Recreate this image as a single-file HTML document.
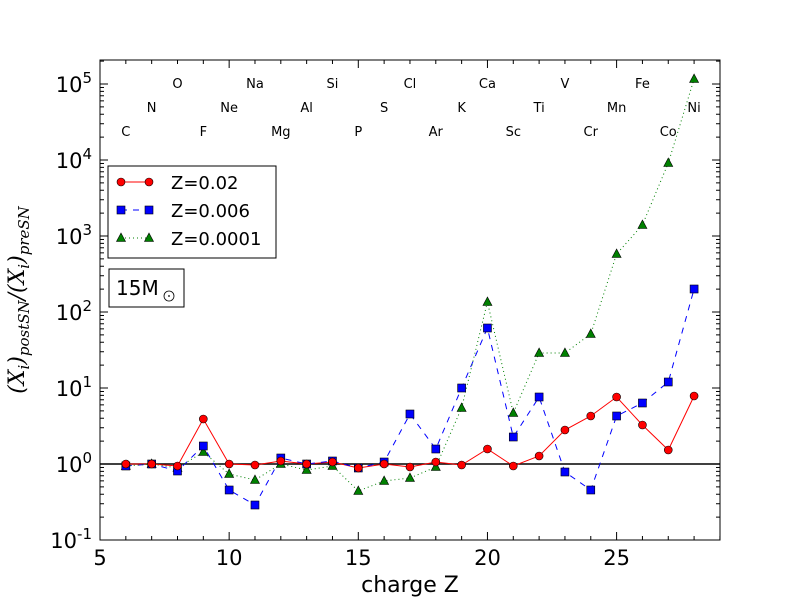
<!DOCTYPE html>
<html><head><meta charset="utf-8"><style>
html,body{margin:0;padding:0;background:#fff;}
svg{display:block;font-family:"DejaVu Sans","Liberation Sans",sans-serif;}
</style></head><body>
<svg id="s" width="800" height="600" xmlns="http://www.w3.org/2000/svg">
<rect width="800" height="600" fill="#fff"/>
</svg>
<script>
const s=document.getElementById('s');let h='';
const X=z=>100+(z-5)*25.83;
const Y=v=>464-Math.log10(v)*76;
h+='<rect x="100" y="60" width="620" height="480" fill="none" stroke="#000" stroke-width="1"/>';
for(let z=5;z<=29;z++){const x=X(z);const L=(z%5==0)?8:4;
h+=`<line x1="${x}" y1="540" x2="${x}" y2="${540-L}" stroke="#000"/><line x1="${x}" y1="60" x2="${x}" y2="${60+L}" stroke="#000"/>`;
if(z%5==0&&z<29)h+=`<text x="${x}" y="565" font-size="21" text-anchor="middle">${z}</text>`;}
for(let e=-1;e<=5;e++){for(let m=1;m<10;m++){const y=Y(m*Math.pow(10,e));if(y<60)continue;const L=m==1?8:4;
h+=`<line x1="100" y1="${y}" x2="${100+L}" y2="${y}" stroke="#000"/><line x1="720" y1="${y}" x2="${720-L}" y2="${y}" stroke="#000"/>`;}
const y=Y(Math.pow(10,e));
h+=`<text x="92" y="${y+8}" font-size="21" text-anchor="end">10<tspan dy="-9" font-size="15">${e}</tspan></text>`;}
h+='<line x1="100" y1="464" x2="720" y2="464" stroke="#000" stroke-width="1.5"/>';
const el=['C','N','O','F','Ne','Na','Mg','Al','Si','P','S','Cl','Ar','K','Ca','Sc','Ti','V','Cr','Mn','Fe','Co','Ni'];
const rows=[131,107,83];
el.forEach((n,i)=>{const z=6+i;h+=`<text x="${X(z)}" y="${rows[i%3]+5}" font-size="13" text-anchor="middle">${n}</text>`;});
const Z=[];for(let z=6;z<=28;z++)Z.push(z);
const red=[464,464,466,419,464,465,461,464,462,468,464,467,462,465,449,466,456,430,416,397,425,450,396];
const blue=[466,464,471,446,490,505,458,464,461,468,462,414,449,388,328,437,397,472,490,416,403,382,289];
const green=[466,464,468,452,474,480,464,470,466,491,481,478,467,408,302,413,353,353,334,254,225,163,79];
const pts=a=>a.map((y,i)=>X(Z[i]).toFixed(1)+','+y).join(' ');
h+=`<polyline points="${pts(red)}" fill="none" stroke="#f00" stroke-width="1"/>`;
h+=`<polyline points="${pts(blue)}" fill="none" stroke="#00f" stroke-width="1" stroke-dasharray="6,6"/>`;
h+=`<polyline points="${pts(green)}" fill="none" stroke="#008000" stroke-width="1" stroke-dasharray="1,3"/>`;
const circ=(x,y)=>`<circle cx="${x}" cy="${y}" r="4" fill="#f00" stroke="#000" stroke-width="0.6"/>`;
const sq=(x,y)=>`<rect x="${x-4}" y="${y-4}" width="8" height="8" fill="#00f" stroke="#000" stroke-width="0.6"/>`;
const tri=(x,y)=>`<polygon points="${x},${y-5} ${x+4.5},${y+3.5} ${x-4.5},${y+3.5}" fill="#008000" stroke="#000" stroke-width="0.6"/>`;
green.forEach((y,i)=>h+=tri(X(Z[i]),y));
blue.forEach((y,i)=>h+=sq(X(Z[i]),y));
red.forEach((y,i)=>h+=circ(X(Z[i]),y));
h+='<rect x="108" y="166" width="168" height="92" fill="#fff" stroke="#000"/>';
h+=`<line x1="121" y1="182" x2="149" y2="182" stroke="#f00"/>`+circ(121,182)+circ(149,182);
h+=`<text x="171" y="189" font-size="18">Z=0.02</text>`;
h+=`<line x1="121" y1="210" x2="149" y2="210" stroke="#00f" stroke-dasharray="6,6"/>`+sq(121,210)+sq(149,210);
h+=`<text x="171" y="217" font-size="18">Z=0.006</text>`;
h+=`<line x1="121" y1="238" x2="149" y2="238" stroke="#008000" stroke-dasharray="1,3"/>`+tri(121,238)+tri(149,238);
h+=`<text x="171" y="245" font-size="18">Z=0.0001</text>`;
h+='<rect x="109" y="269" width="75" height="38" fill="#fff" stroke="#000"/>';
h+='<text x="116" y="295" font-size="20">15M</text><circle cx="169" cy="296" r="5" fill="none" stroke="#000" stroke-width="0.8"/><circle cx="169" cy="296" r="0.9" fill="#000"/>';
h+='<text x="410" y="592" font-size="22" text-anchor="middle">charge Z</text>';
h+='<text transform="translate(24,300) rotate(-90)" font-size="22" text-anchor="middle" font-family="DejaVu Serif,serif" font-style="italic">(X<tspan font-size="15" dy="5">i</tspan><tspan dy="-5">)</tspan><tspan font-size="15" dy="5">postSN</tspan><tspan dy="-5">/(X</tspan><tspan font-size="15" dy="5">i</tspan><tspan dy="-5">)</tspan><tspan font-size="15" dy="5">preSN</tspan></text>';
s.innerHTML+=h;
</script>
</body></html>
